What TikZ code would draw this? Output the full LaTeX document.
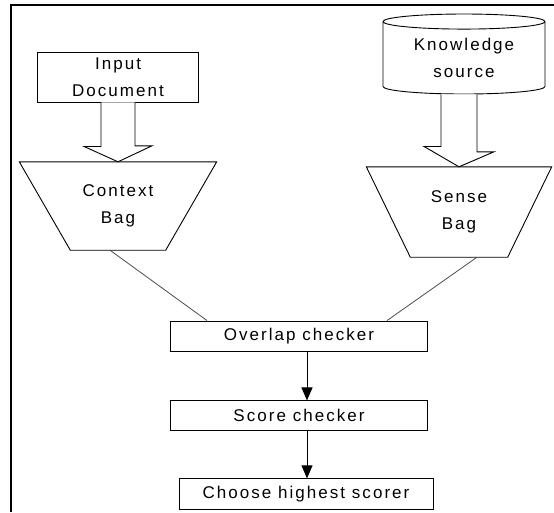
\documentclass[tikz,border=0pt]{standalone}
\usepackage{fontspec}
\newfontfamily\diagfont[LetterSpace=12]{Liberation Sans}
\usetikzlibrary{positioning,arrows.meta,shapes.geometric,calc}

\begin{document}
\begin{tikzpicture}[x=1pt,y=-1pt,font=\diagfont\fontsize{17}{27}\selectfont,>={Triangle[width=11pt,length=13pt]},
  blk/.style={draw,line width=0.9pt,align=center,inner sep=0pt},
  box/.style={blk,minimum width=257pt,minimum height=30pt},
  bag/.style={align=center,inner sep=0pt},
  hollow/.style={draw,line width=0.9pt,fill=white},
  link/.style={draw,line width=0.8pt,black!70}]
  \useasboundingbox (0,0) rectangle (554,512);
  \draw[line width=1.3pt] (554,5) -- (11,5) -- (11,512);
  % sources
  \node[blk,minimum width=161pt,minimum height=50pt] (input) at (118,77) {Input\\Document};
  \node[blk,cylinder,shape border rotate=90,aspect=0.15,minimum width=162pt,minimum height=80pt] (know) at (464,58) {Knowledge\\source};
  % bags
  \node[bag,minimum width=197pt,minimum height=88pt] (ctx) at (118,206) {Context\\Bag};
  \node[bag,minimum width=185pt,minimum height=90pt] (sense) at (459,212) {Sense\\Bag};
  \draw[line width=0.9pt] (ctx.north west) -- (ctx.north east) -- ([xshift=-51pt]ctx.south east) -- ([xshift=51pt]ctx.south west) -- cycle;
  \draw[line width=0.9pt] (sense.north west) -- (sense.north east) -- ([xshift=-44pt]sense.south east) -- ([xshift=44pt]sense.south west) -- cycle;
  \draw[hollow] ($(input.south)+(-17,0)$) -- ++(0,44) -- ++(-17,0) -- (ctx.north) -- ++(34,-16) -- ++(-17,0) -- ($(input.south)+(17,0)$);
  \draw[hollow] ($(know.south -| sense.north)+(-18,0)$) -- ++(0,52) -- ++(-17,0) -- (sense.north) -- ++(35,-15) -- ++(-17,0) -- ($(know.south -| sense.north)+(18,0)$);
  % checking chain
  \node[box] (overlap) at (299,336) {Overlap checker};
  \node[box,below=49pt of overlap] (score) {Score checker};
  \node[blk,minimum width=254pt,minimum height=31pt,below=47pt of score,xshift=7pt] (choose) {Choose highest scorer};
  \draw[link] ([xshift=-8pt]ctx.south) -- ([xshift=-92pt]overlap.north);
  \draw[link] ([xshift=18pt]sense.south) -- ([xshift=88pt]overlap.north);
  \draw[->,line width=1pt] ([xshift=8pt]overlap.south) -- ([xshift=8pt]score.north);
  \draw[->,line width=1pt] ([xshift=8pt]score.south) -- ([xshift=1pt]choose.north);
\end{tikzpicture}
\end{document}
